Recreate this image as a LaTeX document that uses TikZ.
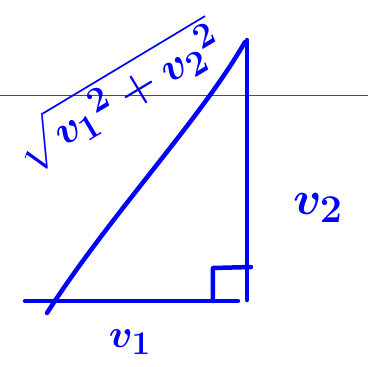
\documentclass[tikz,border=0pt]{standalone}
\usepackage{amsmath}
\usepackage{xcolor}
\usetikzlibrary{positioning,calc}

\begin{document}
\begin{tikzpicture}[x=1pt,y=-1pt,
ink/.style={draw=blue, line width=4.5pt, line cap=round, line join=round},
lbl/.style={text=blue, inner sep=0pt, font=\Huge\boldmath}
]
\useasboundingbox (0,0) rectangle (368,367);
% guide line
\coordinate (gl) at (0,95);
\coordinate (gr) at (368,95);
\draw[black!70, line width=1pt] (gl) -- (gr);
% triangle
\coordinate (baseL) at (25,301);
\coordinate (baseR) at (238,301);
\coordinate (top) at (247,40);
\coordinate (corner) at (247,300);
\coordinate (hypA) at (47,313);
\coordinate (hypB) at (245,42);
\draw[ink] (baseL) -- (baseR);
\draw[ink] (top) -- (corner);
\draw[ink] (hypA) .. controls (110,215) and (200,120) .. (hypB);
% right angle mark
\coordinate (ra1) at (213,301);
\coordinate (ra2) at (213,268);
\coordinate (ra3) at (251,267);
\draw[ink] (ra1) -- (ra2) -- (ra3);
% labels
\node[lbl, scale=1.6] (vone) at (130,342) {$v_1$};
\node[lbl, scale=1.9] (vtwo) at (318,208) {$v_2$};
\node[lbl, rotate=31, scale=1.7] (hyp) at (118,96) {$\sqrt{v_1{}^2+v_2{}^2}$};
\end{tikzpicture}
\end{document}
